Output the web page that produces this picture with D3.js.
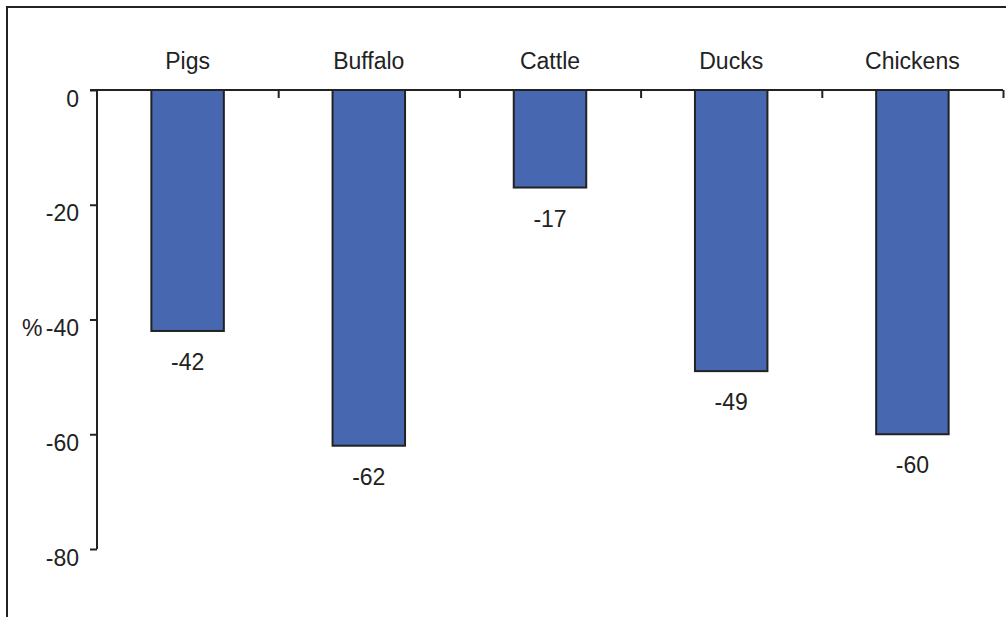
<!DOCTYPE html>
<html>
<head>
<meta charset="utf-8">
<script src="https://cdn.jsdelivr.net/npm/d3@7"></script>
<style>
html,body{margin:0;padding:0;background:#fff;}
svg{display:block;}
text{font-family:"Liberation Sans",Arial,sans-serif;font-size:23px;fill:#222;}
</style>
</head>
<body>
<svg id="chart" width="1006" height="617"></svg>
<script>
const categories = ["Pigs", "Buffalo", "Cattle", "Ducks", "Chickens"];
const values = [-42, -62, -17, -49, -60];
const yTicks = [0, -20, -40, -60, -80];
const yUnit = "%";

const svg = d3.select("#chart");
const W = 1006, H = 617;

// outer border
svg.append("rect")
  .attr("x", 7).attr("y", 7).attr("width", 1010).attr("height", 620)
  .attr("fill", "none").attr("stroke", "#222").attr("stroke-width", 2);

const x = d3.scaleBand().domain(categories).range([97, 1003]);
const y = d3.scaleLinear().domain([-80, 0]).range([549, 90]);
const barW = x.bandwidth() * 0.4;

// bars
svg.append("g").selectAll("rect")
  .data(categories.map((c, i) => ({c, v: values[i]})))
  .join("rect")
  .attr("x", d => x(d.c) + (x.bandwidth() - barW) / 2)
  .attr("y", y(0))
  .attr("width", barW)
  .attr("height", d => y(d.v) - y(0))
  .attr("fill", "#4767B0")
  .attr("stroke", "#222")
  .attr("stroke-width", 2);

// y axis
const yAxis = d3.axisLeft(y).tickValues(yTicks).tickSize(7).tickFormat(d3.format("d"));
const gy = svg.append("g").attr("transform", "translate(97,0)").call(yAxis);
gy.select(".domain").attr("stroke", "#222").attr("stroke-width", 2).attr("d", `M0,${y(0)}V${y(-80)}`);
gy.selectAll(".tick line").attr("stroke", "#222").attr("stroke-width", 2);
gy.selectAll(".tick text")
  .attr("x", -18).attr("dy", null).attr("y", 16)
  .style("font-family", '"Liberation Sans",Arial,sans-serif').style("font-size", "23px")
  .attr("fill", "#222").text(d => d === 0 ? "0" : String(d));

// y unit
svg.append("text").attr("x", 22).attr("y", y(-40) + 16).text(yUnit);

// x axis (at zero, ticks at band boundaries)
const xb = d3.scaleLinear().domain([0, categories.length]).range([97, 1003]);
const gx = svg.append("g").attr("transform", `translate(0,${y(0)})`)
  .call(d3.axisBottom(xb).ticks(categories.length).tickValues(d3.range(1, categories.length + 1)).tickSize(8).tickFormat(""));
gx.select(".domain").attr("stroke", "#222").attr("stroke-width", 2).attr("d", `M90,0H${xb(categories.length)}`);
gx.selectAll(".tick line").attr("stroke", "#222").attr("stroke-width", 2);

// category labels
svg.append("g").selectAll("text")
  .data(categories)
  .join("text")
  .attr("x", d => x(d) + x.bandwidth() / 2)
  .attr("y", 69)
  .attr("text-anchor", "middle")
  .text(d => d);

// value labels
svg.append("g").selectAll("text")
  .data(categories.map((c, i) => ({c, v: values[i]})))
  .join("text")
  .attr("x", d => x(d.c) + x.bandwidth() / 2)
  .attr("y", d => y(d.v) + 39)
  .attr("text-anchor", "middle")
  .text(d => String(d.v));
</script>
</body>
</html>
